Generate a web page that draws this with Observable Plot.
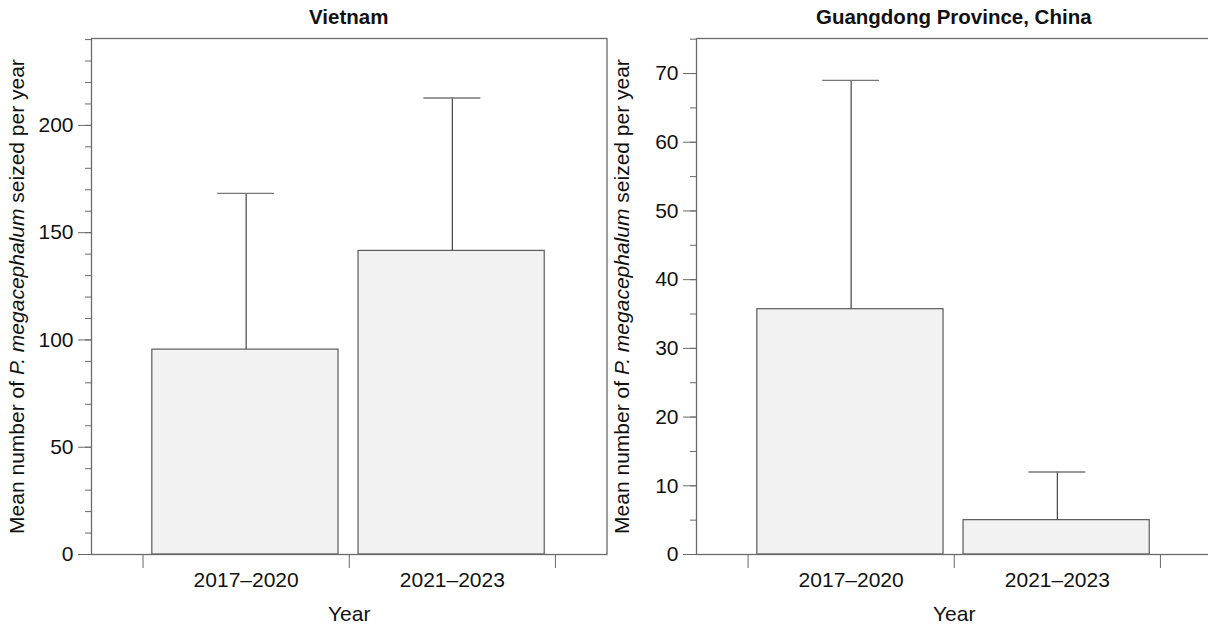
<!DOCTYPE html>
<html>
<head>
<meta charset="utf-8">
<script src="https://cdn.jsdelivr.net/npm/d3@7"></script>
<script src="https://cdn.jsdelivr.net/npm/@observablehq/plot@0.6"></script>
<style>
  html, body { margin: 0; padding: 0; background: #fff; overflow: hidden; }
  body { width: 1208px; height: 625px; font-family: "Liberation Sans", Arial, sans-serif; }
  #wrap { display: flex; flex-direction: row; width: 1208px; }
  .panel { overflow: hidden; flex: none; }
  .panel svg { max-width: none !important; display: block; }
  .title { height: 30px; line-height: 34px; font-weight: bold; font-size: 20.5px; color: #111; position: relative; }
</style>
</head>
<body>
<div id="wrap">
  <div class="panel" id="p1" style="width:610px"></div>
  <div class="panel" id="p2" style="width:598px"></div>
</div>
<script>
// ---- data ----
const periods = ["2017–2020", "2021–2023"];
const vietnamMean = [95.5, 141.5];
const vietnamUpper = [168.3, 212.8];
const guangdongMean = [35.7, 5.0];
const guangdongUpper = [69.0, 12.0];
const vietnamMajorTicks = [0, 50, 100, 150, 200];
const vietnamMinorTicks = d3.range(0, 241, 10);
const guangdongMajorTicks = [0, 10, 20, 30, 40, 50, 60, 70];
const guangdongMinorTicks = d3.range(0, 76, 5);
const titles = ["Vietnam", "Guangdong Province, China"];
const yLabel = "Mean number of P. megacephalum seized per year";
const xLabel = "Year";

const axisColor = "#6a6a6a";
const textColor = "#111";
const fs = 21;

function panel(el, title, means, uppers, yMax, major, minor, marginLeft, width) {
  const data = periods.map((p, i) => ({i, period: p, mean: means[i], upper: uppers[i]}));
  const t = document.createElement("div");
  t.className = "title";
  el.appendChild(t);
  const chart = Plot.plot({
    width, height: 595,
    marginTop: 8, marginBottom: 71, marginLeft, marginRight: 0,
    style: {fontFamily: "'Liberation Sans', Arial, sans-serif", fontSize: fs + "px", color: textColor, background: "#fff", overflow: "visible"},
    x: {domain: [-0.25, 2.25], axis: null},
    y: {domain: [0, yMax], axis: null},
    marks: [
      Plot.rectY(data, {x1: d => d.i + 0.045, x2: d => d.i + 0.948, y1: 0, y2: "mean", fill: "#f2f2f2", stroke: "#5a5a5a", strokeWidth: 1.2}),
      Plot.ruleX(data, {x: d => d.i + 0.5, y1: "mean", y2: "upper", stroke: "#444", strokeWidth: 1.2}),
      Plot.ruleY(data, {y: "upper", x1: d => d.i + 0.5 - 0.138, x2: d => d.i + 0.5 + 0.138, stroke: "#777", strokeWidth: 1.4}),
      Plot.frame({stroke: axisColor, strokeWidth: 1.3}),
      Plot.axisY(minor, {tickSize: 6, tickFormat: () => "", stroke: axisColor, label: null}),
      Plot.axisY(major, {tickSize: 13, tickPadding: 5, stroke: axisColor, fill: textColor, fontSize: fs,
        label: yLabel, labelAnchor: "center", labelOffset: 82, labelArrow: "none"}),
      Plot.axisX([0, 1, 2], {tickSize: 14, tickFormat: () => "", stroke: axisColor, label: null}),
      Plot.axisX([0.5, 1.5], {tickSize: 0, tickPadding: 18, fill: textColor, fontSize: fs,
        tickFormat: v => periods[Math.round(v - 0.5)],
        label: xLabel, labelAnchor: "center", labelOffset: 66, labelArrow: "none"})
    ]
  });
  el.appendChild(chart);
  // title centered over the frame
  const frameCenter = marginLeft + (width - marginLeft) / 2;
  const span = document.createElement("span");
  span.textContent = title;
  t.appendChild(span);
  span.style.position = "absolute";
  span.style.whiteSpace = "nowrap";
  span.style.left = frameCenter + "px";
  span.style.transform = "translateX(-50%)";
  // italic species name in y label
  const lab = chart.querySelector('g[aria-label="y-axis label"] text');
  if (lab) {
    const parts = yLabel.split("P. megacephalum");
    lab.textContent = "";
    const ns = "http://www.w3.org/2000/svg";
    const a = document.createElementNS(ns, "tspan"); a.textContent = parts[0];
    const b = document.createElementNS(ns, "tspan"); b.textContent = "P. megacephalum"; b.setAttribute("font-style", "italic");
    const c = document.createElementNS(ns, "tspan"); c.textContent = parts[1];
    lab.append(a, b, c);
  }
}

panel(document.getElementById("p1"), titles[0], vietnamMean, vietnamUpper, 240.5,
      vietnamMajorTicks, vietnamMinorTicks, 91, 606.5);
panel(document.getElementById("p2"), titles[1], guangdongMean, guangdongUpper, 75.1,
      guangdongMajorTicks, guangdongMinorTicks, 86, 601.5);
</script>
</body>
</html>
